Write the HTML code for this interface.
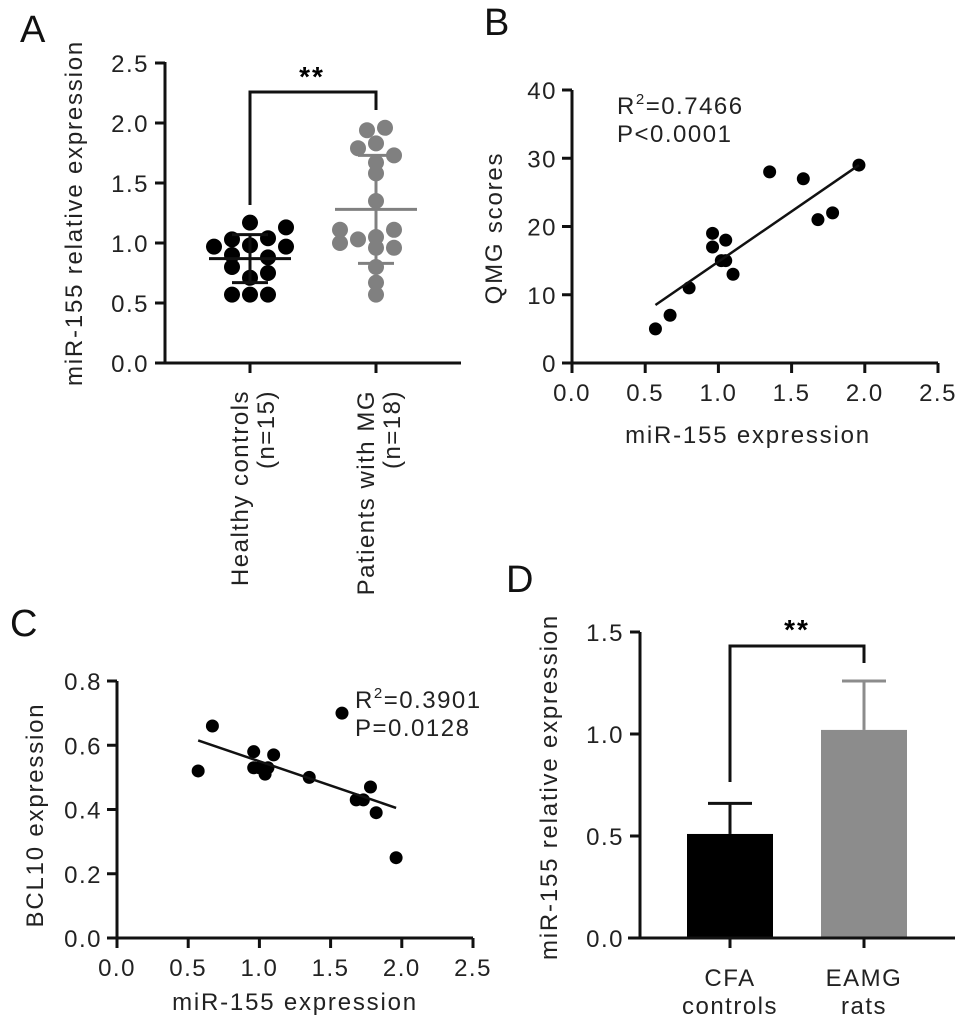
<!DOCTYPE html>
<html><head><meta charset="utf-8"><style>
body{margin:0;background:#fff}
svg{display:block;font-family:"Liberation Sans",Arial,sans-serif}
.tk{font-size:24px;letter-spacing:1.5px;fill:#222}
.tt{font-size:24px;letter-spacing:1.8px;fill:#222}
.pl{font-size:38px;fill:#111}
</style></head><body>
<svg id="fig" width="969" height="1032" viewBox="0 0 969 1032">
<g id="A"></g>
<g id="B"></g>
<g id="C"></g>
<g id="D"></g>
</svg>
<script>
// Panel A data
const aCategories=["Healthy controls|(n=15)","Patients with MG|(n=18)"];
const aCtrlValues=[1.17,1.13,1.03,1.04,0.97,0.98,0.97,0.9,0.88,0.8,0.75,0.71,0.57,0.57,0.57];
const aCtrlJitter=[0,2,-1,1,-2,0,2,-1,1,-1,1,0,-1,0,1];
const aMgValues=[1.94,1.96,1.79,1.83,1.73,1.67,1.58,1.35,1.11,1.11,1.0,1.03,1.05,0.96,0.96,0.8,0.67,0.57];
const aMgJitter=[-0.5,0.5,-1,0,1,0,0,0,-2,1,-2,-1,0,0,1,0,0,0];
const aMeans=[0.87,1.28];
const aSdLow=[0.67,0.83];
const aSdHigh=[1.07,1.73];
const aTicks=["0.0","0.5","1.0","1.5","2.0","2.5"];
// Panel B data
const bX=[0.57,0.67,0.8,0.96,0.96,1.05,1.02,1.05,1.1,1.35,1.58,1.68,1.78,1.96];
const bY=[5,7,11,19,17,18,15,15,13,28,27,21,22,29];
const bFitX=[0.57,1.96];
const bFitY=[8.5,29];
const bXTicks=["0.0","0.5","1.0","1.5","2.0","2.5"];
const bYTicks=["0","10","20","30","40"];
// Panel C data
const cX=[0.57,0.67,0.96,0.96,1.0,1.04,1.06,1.1,1.35,1.58,1.68,1.73,1.78,1.82,1.96];
const cY=[0.52,0.66,0.58,0.53,0.53,0.51,0.53,0.57,0.5,0.7,0.43,0.43,0.47,0.39,0.25];
const cFitX=[0.57,1.96];
const cFitY=[0.615,0.405];
const cXTicks=["0.0","0.5","1.0","1.5","2.0","2.5"];
const cYTicks=["0.0","0.2","0.4","0.6","0.8"];
// Panel D data
const dCategories=["CFA|controls","EAMG|rats"];
const dValues=[0.51,1.02];
const dErr=[0.66,1.26];
const dTicks=["0.0","0.5","1.0","1.5"];

const NS="http://www.w3.org/2000/svg";
function mk(parent,tag,attrs,text){const e=document.createElementNS(NS,tag);for(const k in attrs)e.setAttribute(k,attrs[k]);if(text!==undefined)e.textContent=text;parent.appendChild(e);return e;}
function line(p,x1,y1,x2,y2,c,w){return mk(p,"line",{x1,y1,x2,y2,stroke:c||"#111","stroke-width":w||3});}

// ---------- Panel A ----------
(function(){
const g=document.getElementById("A");
const y=v=>363-v*120;
const cx=[250,376];
let t=mk(g,"text",{x:20,y:42,class:"pl"},"A");

line(g,165,62,165,364);line(g,155,363,461,363);
aTicks.forEach(s=>{const v=parseFloat(s);line(g,155,y(v),165,y(v));
 const tx=mk(g,"text",{x:149,y:y(v)+9,class:"tk","text-anchor":"end"},s);
 });
t=mk(g,"text",{transform:"translate(82,213) rotate(-90)",class:"tt","text-anchor":"middle"},"miR-155 relative expression");

aCategories.forEach((c,i)=>{line(g,cx[i],363,cx[i],373);
 c.split("|").forEach((s,j)=>{const tx=mk(g,"text",{transform:`translate(${cx[i]-2+j*26},390) rotate(-90)`,class:"tk","text-anchor":"end"},s);
 });});
const groups=[[aCtrlValues,aCtrlJitter,"#000"],[aMgValues,aMgJitter,"#808080"]];
groups.forEach((gr,i)=>{
 gr[0].forEach((v,k)=>{const c=mk(g,"circle",{cx:cx[i]+gr[1][k]*18,cy:y(v),r:8,fill:gr[2]});
  });
 const col=i?"#808080":"#111";
 line(g,cx[i]-41,y(aMeans[i]),cx[i]+41,y(aMeans[i]),col,3);
 line(g,cx[i],y(aSdLow[i]),cx[i],y(aSdHigh[i]),col,3);
 line(g,cx[i]-18,y(aSdLow[i]),cx[i]+18,y(aSdLow[i]),col,3);
 line(g,cx[i]-18,y(aSdHigh[i]),cx[i]+18,y(aSdHigh[i]),col,3);
});
mk(g,"polyline",{points:`250,205 250,92 376,92 376,110`,fill:"none",stroke:"#111","stroke-width":3});
t=mk(g,"text",{x:312,y:86,"font-size":28,"text-anchor":"middle","font-weight":"bold","letter-spacing":2},"**");

})();

// ---------- Scatter helper ----------
function scatter(g,ox,oy,xs,ys,xmax,ymax,pxX,pxY,X,Y,fx,fy,xt,yt){
 const sx=v=>ox+v/xmax*pxX, sy=v=>oy-v/ymax*pxY;
 line(g,ox,oy-pxY,ox,oy+1);line(g,ox-10,oy,ox+pxX,oy);
 yt.forEach(s=>{const v=parseFloat(s);line(g,ox-10,sy(v),ox,sy(v));
  const tx=mk(g,"text",{x:ox-15,y:sy(v)+9,class:"tk","text-anchor":"end"},s);
  });
 xt.forEach(s=>{const v=parseFloat(s);line(g,sx(v),oy,sx(v),oy+10);
  const tx=mk(g,"text",{x:sx(v),y:oy+38,class:"tk","text-anchor":"middle"},s);
  });
 X.forEach((v,i)=>{const c=mk(g,"circle",{cx:sx(v),cy:sy(Y[i]),r:6.5,fill:"#000"});
  });
 const l=line(g,sx(fx[0]),sy(fy[0]),sx(fx[1]),sy(fy[1]),"#111",2.5);
 
}

// ---------- Panel B ----------
(function(){
const g=document.getElementById("B");
let t=mk(g,"text",{x:484,y:35,class:"pl"},"B");

scatter(g,572,363,0,0,2.5,40,366,273,bX,bY,bFitX,bFitY,bXTicks,bYTicks);
t=mk(g,"text",{x:617,y:114,class:"tk"});t.innerHTML='R<tspan dy="-10" font-size="15">2</tspan><tspan dy="10">=0.7466</tspan>';

t=mk(g,"text",{x:617,y:142,class:"tk"},"P<0.0001");

t=mk(g,"text",{x:748,y:443,class:"tt","text-anchor":"middle"},"miR-155 expression");

t=mk(g,"text",{transform:"translate(502,228) rotate(-90)",class:"tt","text-anchor":"middle"},"QMG scores");

})();

// ---------- Panel C ----------
(function(){
const g=document.getElementById("C");
let t=mk(g,"text",{x:10,y:636,class:"pl"},"C");

scatter(g,117,938,0,0,2.5,0.8,356,257,cX,cY,cFitX,cFitY,cXTicks,cYTicks);
t=mk(g,"text",{x:355,y:708,class:"tk"});t.innerHTML='R<tspan dy="-10" font-size="15">2</tspan><tspan dy="10">=0.3901</tspan>';

t=mk(g,"text",{x:355,y:736,class:"tk"},"P=0.0128");

t=mk(g,"text",{x:295,y:1010,class:"tt","text-anchor":"middle"},"miR-155 expression");

t=mk(g,"text",{transform:"translate(43,815) rotate(-90)",class:"tt","text-anchor":"middle"},"BCL10 expression");

})();

// ---------- Panel D ----------
(function(){
const g=document.getElementById("D");
const y=v=>938-v/1.5*306;
const cx=[730,864], cols=["#000","#8c8c8c"];
let t=mk(g,"text",{x:506,y:592,class:"pl"},"D");

dValues.forEach((v,i)=>{
 line(g,cx[i],y(v),cx[i],y(dErr[i]),i?"#8c8c8c":"#111",3);
 line(g,cx[i]-22,y(dErr[i]),cx[i]+22,y(dErr[i]),i?"#8c8c8c":"#111",3);
 const r=mk(g,"rect",{x:cx[i]-43,y:y(v),width:86,height:938-y(v),fill:cols[i]});
 
});
line(g,640,632,640,939);line(g,628,938,955,938);
dTicks.forEach(s=>{const v=parseFloat(s);line(g,630,y(v),640,y(v));
 const tx=mk(g,"text",{x:624,y:y(v)+9,class:"tk","text-anchor":"end"},s);
 });
dCategories.forEach((c,i)=>{line(g,cx[i],938,cx[i],948);
 c.split("|").forEach((s,j)=>{const tx=mk(g,"text",{x:cx[i],y:986+j*28,class:"tk","text-anchor":"middle"},s);
 });});
mk(g,"polyline",{points:`730,782 730,646 864,646 864,663`,fill:"none",stroke:"#111","stroke-width":3});
t=mk(g,"text",{x:797,y:639,"font-size":28,"text-anchor":"middle","font-weight":"bold","letter-spacing":2},"**");

t=mk(g,"text",{transform:"translate(557,787) rotate(-90)",class:"tt","text-anchor":"middle"},"miR-155 relative expression");

})();
</script>
</body></html>
